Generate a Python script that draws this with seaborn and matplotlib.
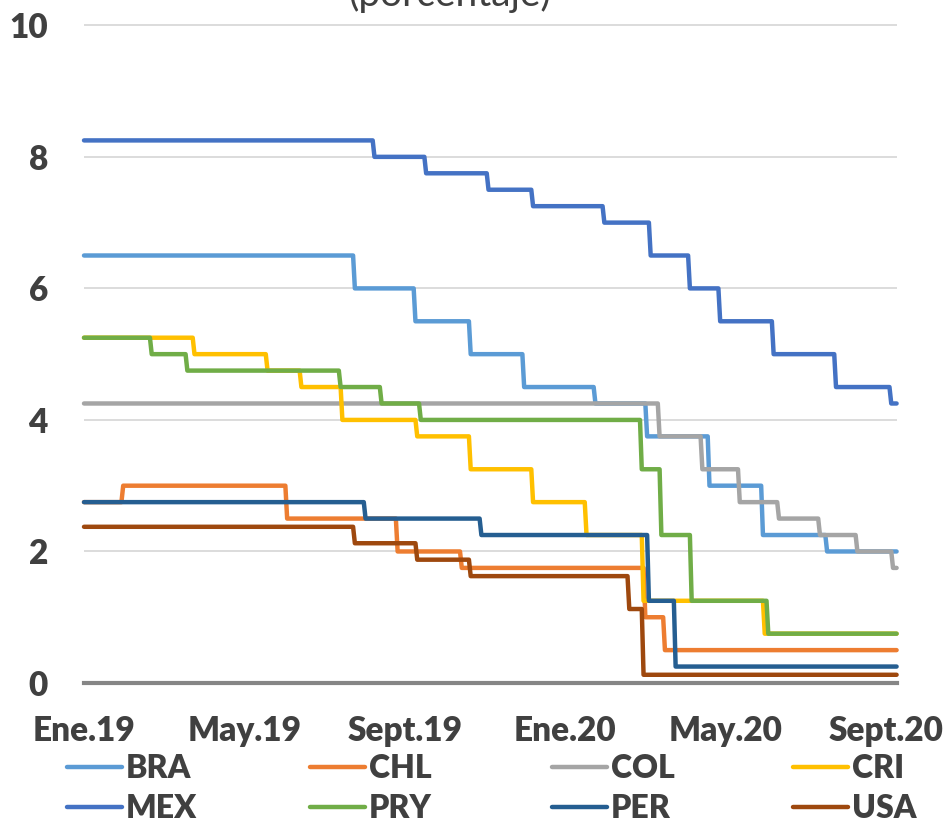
import numpy as np
import pandas as pd
import matplotlib
matplotlib.use("Agg")
import matplotlib.pyplot as plt
import seaborn as sns
from matplotlib.lines import Line2D
from matplotlib.font_manager import FontProperties

# ---------------- data (policy rates, %, effective dates of changes) ----------------
START = "2019-01-01"
END = "2020-09-30"

COUNTRIES = ["BRA", "CHL", "COL", "CRI", "MEX", "PRY", "PER", "USA"]

BRA_DATES = ["2019-01-01", "2019-08-01", "2019-09-18", "2019-10-31", "2019-12-12",
             "2020-02-06", "2020-03-18", "2020-05-06", "2020-06-17", "2020-08-06"]
BRA_RATES = [6.50, 6.00, 5.50, 5.00, 4.50, 4.25, 3.75, 3.00, 2.25, 2.00]

CHL_DATES = ["2019-01-01", "2019-01-31", "2019-06-10", "2019-09-04", "2019-10-24",
             "2020-03-17", "2020-04-01"]
CHL_RATES = [2.75, 3.00, 2.50, 2.00, 1.75, 1.00, 0.50]

COL_DATES = ["2019-01-01", "2020-03-27", "2020-04-30", "2020-05-29", "2020-06-30",
             "2020-07-31", "2020-08-31", "2020-09-28"]
COL_RATES = [4.25, 3.75, 3.25, 2.75, 2.50, 2.25, 2.00, 1.75]

CRI_DATES = ["2019-01-01", "2019-03-28", "2019-05-24", "2019-06-20", "2019-07-23",
             "2019-09-19", "2019-10-31", "2019-12-19", "2020-01-30", "2020-03-16",
             "2020-06-18"]
CRI_RATES = [5.25, 5.00, 4.75, 4.50, 4.00, 3.75, 3.25, 2.75, 2.25, 1.25, 0.75]

MEX_DATES = ["2019-01-01", "2019-08-16", "2019-09-26", "2019-11-14", "2019-12-19",
             "2020-02-13", "2020-03-20", "2020-04-21", "2020-05-14", "2020-06-25",
             "2020-08-13", "2020-09-25"]
MEX_RATES = [8.25, 8.00, 7.75, 7.50, 7.25, 7.00, 6.50, 6.00, 5.50, 5.00, 4.50, 4.25]

PRY_DATES = ["2019-01-01", "2019-02-22", "2019-03-22", "2019-07-22", "2019-08-22",
             "2019-09-23", "2020-03-13", "2020-03-30", "2020-04-22", "2020-06-22"]
PRY_RATES = [5.25, 5.00, 4.75, 4.50, 4.25, 4.00, 3.25, 2.25, 1.25, 0.75]

PER_DATES = ["2019-01-01", "2019-08-09", "2019-11-08", "2020-03-19", "2020-04-09"]
PER_RATES = [2.75, 2.50, 2.25, 1.25, 0.25]

USA_DATES = ["2019-01-01", "2019-08-01", "2019-09-19", "2019-10-31", "2020-03-04",
             "2020-03-16"]
USA_RATES = [2.375, 2.125, 1.875, 1.625, 1.125, 0.125]

Y_TICKS = [0, 2, 4, 6, 8, 10]
MESES = ["Ene", "Feb", "Mar", "Abr", "May", "Jun", "Jul", "Ago", "Sept", "Oct", "Nov", "Dic"]
TITLE = "(porcentaje)"

COLORS = {"BRA": "#5B9BD5", "CHL": "#ED7D31", "COL": "#A5A5A5", "CRI": "#FFC000",
          "MEX": "#4472C4", "PRY": "#70AD47", "PER": "#255E91", "USA": "#9E480E"}

SERIES = {"BRA": (BRA_DATES, BRA_RATES), "CHL": (CHL_DATES, CHL_RATES),
          "COL": (COL_DATES, COL_RATES), "CRI": (CRI_DATES, CRI_RATES),
          "MEX": (MEX_DATES, MEX_RATES), "PRY": (PRY_DATES, PRY_RATES),
          "PER": (PER_DATES, PER_RATES), "USA": (USA_DATES, USA_RATES)}

# ---------------- build daily (business-day category) table ----------------
days = pd.bdate_range(START, END)
frames = []
for c in COUNTRIES:
    d, r = SERIES[c]
    s = pd.Series(r, index=pd.to_datetime(d)).reindex(days, method="ffill")
    frames.append(pd.DataFrame({"idx": np.arange(len(days)), "rate": s.values, "pais": c}))
df = pd.concat(frames, ignore_index=True)

# ---------------- plot ----------------
sns.set_theme(style="white")
plt.rcParams["font.family"] = ["Lato", "DejaVu Sans"]
TXT = "#404040"
FS = 24
LFS = 23
WEIGHT = "heavy"

fig = plt.figure(figsize=(9.51, 8.24), dpi=100)
ax = fig.add_axes([84 / 951, 1 - 683 / 824, (896.6 - 84) / 951, (683 - 24) / 824])

sns.lineplot(data=df, x="idx", y="rate", hue="pais", hue_order=COUNTRIES,
             palette=COLORS, linewidth=3.2, legend=False, ax=ax,
             estimator=None, errorbar=None)
for ln in ax.lines:
    ln.set_solid_capstyle("round")
    ln.set_solid_joinstyle("round")
    ln.set_clip_on(False)
    ln.set_zorder(3)

ax.set_xlim(0, len(days) - 1)
ax.set_ylim(0, 10.02)
ax.set_yticks(Y_TICKS)
ax.set_yticklabels([str(v) for v in Y_TICKS])
xt = list(range(0, len(days), 90))
ax.set_xticks(xt)
ax.set_xticklabels([f"{MESES[days[i].month - 1]}.{days[i].strftime('%y')}" for i in xt])
ax.set_xlabel("")
ax.set_ylabel("")

ax.yaxis.grid(True, color="#D9D9D9", linewidth=1.3)
ax.xaxis.grid(False)
ax.set_axisbelow(True)
for sp in ["left", "right", "top"]:
    ax.spines[sp].set_visible(False)
ax.spines["bottom"].set_color("#868686")
ax.spines["bottom"].set_linewidth(3)
ax.spines["bottom"].set_zorder(2)

ax.tick_params(axis="y", length=0, pad=26, labelsize=FS, labelcolor=TXT)
ax.tick_params(axis="x", length=7, width=3, color="#868686", direction="out",
               pad=16, labelsize=FS, labelcolor=TXT)
for lab in ax.get_xticklabels() + ax.get_yticklabels():
    lab.set_fontweight(WEIGHT)

fig.text(0.473, 1 - 6 / 824, TITLE, ha="center", va="baseline", fontsize=28, color=TXT)

# legend: 4 columns x 2 rows
legend_cols = [["BRA", "MEX"], ["CHL", "PRY"], ["COL", "PER"], ["CRI", "USA"]]
col_x = [67, 310, 552, 793]
fp = FontProperties(family=["Lato", "DejaVu Sans"], weight=WEIGHT, size=LFS)
for names, x0 in zip(legend_cols, col_x):
    handles = [Line2D([], [], color=COLORS[n], lw=3.2, solid_capstyle="round") for n in names]
    fig.legend(handles=handles, labels=names, loc="upper left",
               bbox_to_anchor=(x0 / 951, 1 - 754 / 824), frameon=False,
               borderpad=0, borderaxespad=0, handlelength=1.72, handletextpad=0.12,
               labelspacing=0.36, prop=fp, labelcolor=TXT)

fig.savefig("out.png", dpi=100)
